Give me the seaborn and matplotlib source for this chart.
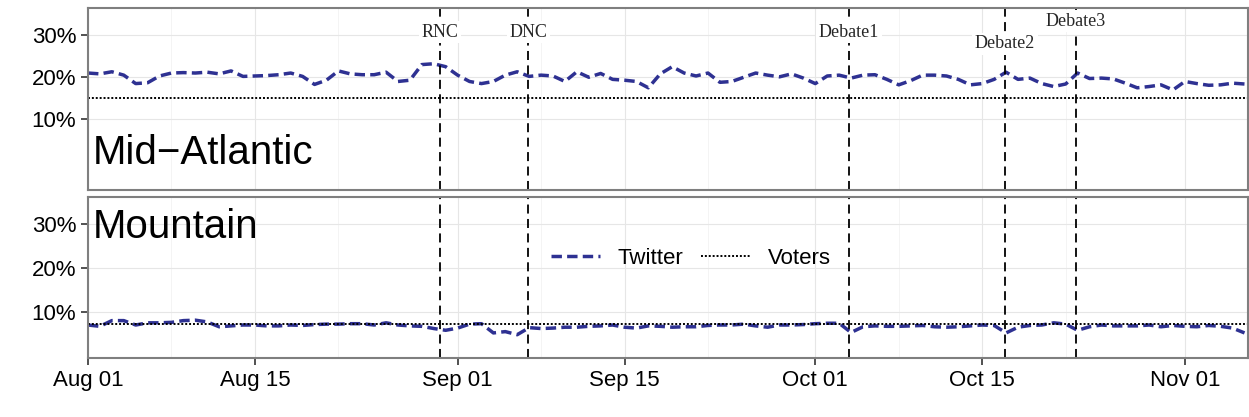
import pandas as pd
import numpy as np
import matplotlib
matplotlib.use("Agg")
import matplotlib.pyplot as plt
import matplotlib.dates as mdates
import seaborn as sns

# daily Twitter share (%) Aug 1 - Nov 6, 2012
mid_atlantic = [21, 20.8, 21.3, 20.5, 18.5, 18.7, 20.3, 21, 21.1, 21, 21.2, 20.8, 21.5, 20.2,
                20.3, 20.4, 20.6, 21, 20.2, 18.3, 19.3, 21.5, 20.8, 20.6, 20.6, 21.2, 19, 19.3, 23, 23.2, 22.5,
                20.5, 19, 18.5, 19, 20.5, 21.3, 20.2, 20.5, 20.3, 19, 21.3, 20, 20.9, 19.5, 19.3,
                19, 17.5, 20.8, 22.5, 21, 20.3, 21, 18.8, 19, 20, 21, 20.5, 20.1, 20.8, 19.8,
                18.5, 20.3, 20.5, 19.8, 20.5, 20.6, 19.5, 18.2, 19.2, 20.5, 20.5, 20.3, 19.5, 18.2, 18.5,
                19.5, 21.2, 19.5, 19.8, 18.5, 17.8, 18.4, 21, 19.7, 19.8, 19.6, 18.6, 17.5, 17.8, 18.2, 17,
                19, 18.5, 18.1, 18.2, 18.6, 18.4]
mountain = [7, 6.7, 8, 8, 7, 7.5, 7.5, 7.6, 8, 8.1, 7.7, 6.6, 6.8, 7, 7, 6.8, 6.8, 7, 6.9, 7.1,
            7.2, 7.2, 7.3, 7.3, 7, 7.5, 7, 6.8, 6.7, 6.2, 5.8,
            6.3, 7.2, 7.3, 5.2, 5.5, 4.8, 6.4, 6.2, 6.3, 6.5, 6.5, 6.7, 6.8, 7, 6.5, 6.3, 6.8, 6.7, 6.5, 6.6,
            6.6, 6.9, 7, 7, 7.2, 6.8, 6.5, 7, 7, 7.1,
            7.3, 7.4, 7.4, 5.3, 6.6, 6.8, 6.7, 6.7, 6.8, 6.9, 6.6, 6.5, 6.6, 6.8, 7, 6.9, 5.2, 6.5, 6.9, 7,
            7.5, 7.2, 5.8, 6.6, 7, 6.8, 6.8, 6.8, 7, 6.6, 6.9,
            6.7, 6.6, 6.9, 6.7, 6.3, 5.2]
voters = {"Mid\u2212Atlantic": 15.0, "Mountain": 7.3}

events = ["RNC", "DNC", "Debate1", "Debate2", "Debate3"]
event_dates = pd.to_datetime(["2012-08-30 12:00", "2012-09-06 22:00", "2012-10-03 20:00",
                              "2012-10-16 22:00", "2012-10-22 20:00"])
event_label_y = [30.7, 30.7, 30.7, 27.9, 33.3]

sns.set_theme(style="whitegrid")
plt.rcParams["font.family"] = ["Liberation Sans", "DejaVu Sans"]

fig = plt.figure(figsize=(12.49, 4.17), dpi=100)
W, H = 1249, 417
ax_top = fig.add_axes([88 / W, 1 - 190 / H, (1248 - 88) / W, 182 / H])
ax_bot = fig.add_axes([88 / W, 1 - 358 / H, (1248 - 88) / W, 161 / H])

navy = "#2E3192"
panels = [(ax_top, "Mid\u2212Atlantic", mid_atlantic, (-6.7, 36.4)),
          (ax_bot, "Mountain", mountain, (-0.5, 36.1))]
start = pd.Timestamp("2012-08-01")
xmax = pd.Timestamp("2012-11-06 07:00")
for ax, name, vals, ylim in panels:
    dates = pd.date_range(start, periods=len(vals), freq="D")
    df = pd.DataFrame({"date": dates, "share": vals})
    sns.lineplot(data=df, x="date", y="share", ax=ax, color=navy, lw=2.5,
                 linestyle=(0, (3, 1.5)), label="Twitter")
    ax.axhline(voters[name], color="black", lw=1.4, linestyle=(0, (1, 1)), label="Voters")
    for d in event_dates:
        ax.axvline(d, color="black", lw=1.3, linestyle=(0, (5, 3)))
    ax.set_xlim(start, xmax)
    ax.set_ylim(*ylim)
    ax.set_yticks([10, 20, 30])
    ax.set_yticklabels(["10%", "20%", "30%"], fontsize=16)
    ax.set_xlabel("")
    ax.set_ylabel("")
    ax.grid(True, color="#e6e6e6", lw=0.8)
    ax.set_axisbelow(True)
    for s in ax.spines.values():
        s.set_color("#7f7f7f")
        s.set_linewidth(1.5)
    ax.tick_params(axis="both", length=5, width=1.2, color="#333333", left=True, bottom=True,
                   labelcolor="black")
    ax.xaxis.set_major_locator(mdates.DayLocator(bymonthday=[1, 15]))
    ax.xaxis.set_minor_locator(mdates.DayLocator(bymonthday=[8, 22]))
    ax.grid(True, which="minor", color="#f2f2f2", lw=0.6)
    ax.xaxis.set_major_formatter(mdates.DateFormatter("%b %d"))
    ax.get_legend().remove()

ax_top.text(0.004, 0.1, "Mid\u2212Atlantic", transform=ax_top.transAxes, fontsize=29,
            va="bottom", color="black")
ax_bot.text(0.004, 0.93, "Mountain", transform=ax_bot.transAxes, fontsize=29, va="top",
            color="black")
for lab, d, y in zip(events, event_dates, event_label_y):
    ax_top.text(d, y, lab, ha="center", va="center", fontsize=13, family="Liberation Serif",
                bbox=dict(facecolor="white", edgecolor="none", pad=2))

ax_top.tick_params(axis="x", labelbottom=False, bottom=False)
ax_bot.tick_params(axis="x", labelsize=16)
h, l = ax_bot.get_legend_handles_labels()
ax_bot.legend(h, l, loc="center", bbox_to_anchor=(0.52, 0.62), ncol=2, fontsize=16,
              frameon=False, handlelength=2.2, columnspacing=0.8, labelcolor="black")

fig.savefig("out.png", dpi=100)
